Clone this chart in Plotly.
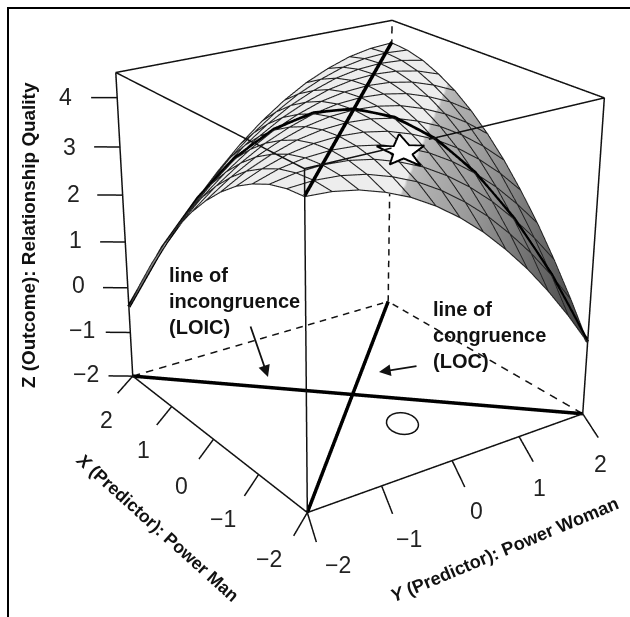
import plotly.graph_objects as go

grid_x = [-2, -1.667, -1.333, -1, -0.667, -0.333, 0, 0.333, 0.667, 1, 1.333, 1.667, 2]
grid_y = list(grid_x)
grid_z = [
 [4.00,3.97,3.88,3.72,3.51,3.23,2.89,2.49,2.02,1.50,0.91,0.26,-0.45],
 [3.97,4.00,3.97,3.88,3.72,3.51,3.23,2.89,2.49,2.02,1.50,0.91,0.26],
 [3.88,3.97,4.00,3.97,3.88,3.72,3.51,3.23,2.89,2.49,2.02,1.50,0.91],
 [3.72,3.88,3.97,4.00,3.97,3.88,3.72,3.51,3.23,2.89,2.49,2.02,1.50],
 [3.51,3.72,3.88,3.97,4.00,3.97,3.88,3.72,3.51,3.23,2.89,2.49,2.02],
 [3.23,3.51,3.72,3.88,3.97,4.00,3.97,3.88,3.72,3.51,3.23,2.89,2.49],
 [2.89,3.23,3.51,3.72,3.88,3.97,4.00,3.97,3.88,3.72,3.51,3.23,2.89],
 [2.49,2.89,3.23,3.51,3.72,3.88,3.97,4.00,3.97,3.88,3.72,3.51,3.23],
 [2.02,2.49,2.89,3.23,3.51,3.72,3.88,3.97,4.00,3.97,3.88,3.72,3.51],
 [1.50,2.02,2.49,2.89,3.23,3.51,3.72,3.88,3.97,4.00,3.97,3.88,3.72],
 [0.91,1.50,2.02,2.49,2.89,3.23,3.51,3.72,3.88,3.97,4.00,3.97,3.88],
 [0.26,0.91,1.50,2.02,2.49,2.89,3.23,3.51,3.72,3.88,3.97,4.00,3.97],
 [-0.45,0.26,0.91,1.50,2.02,2.49,2.89,3.23,3.51,3.72,3.88,3.97,4.00],
]
shade_right = [.93,.93,.93,.78,.70,.66,.62,.56,.50,.44,.38,.31,.24]
shade_left = [.93,.93,.93,.93,.93,.93,.93,.93,.72,.68,.60,.48,.35]

ring_x = [-1.068,-1.124,-1.168,-1.198,-1.212,-1.207,-1.186,-1.149,-1.099,-1.038,-.973,-.906,-.842,-.786,-.742,-.712,-.698,-.703,-.724,-.761,-.811,-.872,-.937,-1.004,-1.068]
ring_y = [.216,.172,.122,.068,.013,-.039,-.084,-.119,-.141,-.150,-.144,-.124,-.092,-.048,.002,.056,.111,.163,.208,.243,.265,.274,.268,.248,.216]
star_x = [-0.906,-1.283,-1.379,-1.535,-1.869,-1.582,-1.650,-1.412,-1.098,-1.207]
star_y = [-0.022,-0.161,-0.031,-0.307,-0.450,-0.459,-0.692,-0.473,-0.466,-0.317]
star_level = 3.95

x_ticks = [2, 1, 0, -1, -2]
y_ticks = [2, 1, 0, -1, -2]
z_ticks = [4, 3, 2, 1, 0, -1, -2]
z_top = 4.5
floor = -2
MINUS = "\u2212"

# label nudges in pixels, same order as the tick lists
x_nudge = [(8,8),(5,5),(1,5),(-3,0),(-7,-2)]
y_nudge = [(-18,1),(-13,0),(-6,-4),(0,-5),(8,-9)]
z_nudge = [(1,0),(1,0),(2,-1),(1,-1),(1,-2),(1,-2),(2,-1)]

FIG_W, FIG_H = 630, 1413
TOP_CROP = 398
XR = [4, -4]; YR = [-4, 4]; ZR = [-3, 5.5]
aspect = dict(x=1.6, y=1.6111, z=1.0463)
eye = dict(x=3.0767, y=-2.1749, z=1.5706)
center = dict(x=0.2441, y=-0.2748, z=0)
up = dict(x=0.011573, y=-0.001543, z=1)
THIN = 3
THICK = 7

n = len(grid_x)
shade = [[(shade_right[j-i] if j >= i else shade_left[i-j]) for j in range(n)] for i in range(n)]
def pxX(p): return p/FIG_W
def pxY(p): return 1-(p+TOP_CROP)/FIG_H

fig = go.Figure()
fig.add_trace(go.Surface(
    x=grid_x, y=grid_y, z=grid_z,
    surfacecolor=[[shade[j][i] for j in range(n)] for i in range(n)],
    cmin=0, cmax=1, showscale=False, hoverinfo="skip",
    colorscale=[[0,"rgb(0,0,0)"],[0.735,"rgb(187,187,187)"],[0.74,"rgb(237,237,237)"],[1,"rgb(237,237,237)"]],
    lighting=dict(ambient=1, diffuse=0, specular=0, roughness=1, fresnel=0)))
def line(xs, ys, zs, width=THIN, color="#111"):
    fig.add_trace(go.Scatter3d(x=xs, y=ys, z=zs, mode="lines", hoverinfo="skip", showlegend=False,
                               line=dict(color=color, width=width)))
def dashed(p0, p1, periods):
    xs, ys, zs = [], [], []
    for q in range(periods):
        for f in (q/periods, (q+.55)/periods):
            xs.append(p0[0]+(p1[0]-p0[0])*f); ys.append(p0[1]+(p1[1]-p0[1])*f); zs.append(p0[2]+(p1[2]-p0[2])*f)
        xs.append(None); ys.append(None); zs.append(None)
    line(xs, ys, zs)
# surface mesh
for i in range(n):
    line(grid_x,[grid_y[i]]*n,[grid_z[i][j]+.015 for j in range(n)],width=2.2,color="#222")
    line([grid_x[i]]*n,grid_y,[grid_z[j][i]+.015 for j in range(n)],width=2.2,color="#222")
# box
line([2,-2,-2],[-2,-2,2],[floor]*3)
dashed((2,-2,floor),(2,2,floor),21)
dashed((-2,2,floor),(2,2,floor),17)
line([2,2],[-2,-2],[floor,z_top])
line([-2,-2],[-2,-2],[floor,z_top])
line([-2,-2],[2,2],[floor,z_top])
dashed((2,2,floor),(2,2,z_top),23)
line([2,-2,-2,None,-2,-2,2,2],[-2,-2,-0.93,None,-0.45,2,2,-2],[z_top]*3+[None]+[z_top]*4)
# lines of congruence / incongruence
line(grid_x,grid_y,[grid_z[i][i]+.03 for i in range(n)],width=THICK,color="#000")
line(grid_x,grid_y[::-1],[grid_z[n-1-i][i]+.03 for i in range(n)],width=THICK,color="#000")
line([-2,2],[-2,2],[floor,floor],width=THICK,color="#000")
line([2,-2],[-2,2],[floor,floor],width=THICK,color="#000")
for v in x_ticks: line([v,v-.31],[-2,-2.38],[floor,floor])
for v in y_ticks: line([-2,-2.55],[v,v-.25],[floor,floor])
for v in z_ticks: line([2,2.18],[-2,-2.25],[v,v])
line(ring_x,ring_y,[floor]*len(ring_x))
m=len(star_x)
fig.add_trace(go.Mesh3d(x=star_x+[sum(star_x)/m],y=star_y+[sum(star_y)/m],z=[star_level]*(m+1),
    i=[m]*m,j=list(range(m)),k=[(q+1)%m for q in range(m)],color="#fff",hoverinfo="skip",
    lighting=dict(ambient=1,diffuse=0,specular=0,roughness=1,fresnel=0),flatshading=True))
line(star_x+star_x[:1],star_y+star_y[:1],[star_level+.01]*(m+1),width=4,color="#000")

def lab(v): return (MINUS+str(-v)) if v<0 else str(v)
tfont=dict(family="Liberation Sans",size=23,color="#222")
sa=[]
for v,(dx,dy) in zip(x_ticks,x_nudge):
    sa.append(dict(x=v-.62,y=-2.8,z=floor,text=lab(v),showarrow=False,font=tfont,xshift=dx,yshift=-dy))
for v,(dx,dy) in zip(y_ticks,y_nudge):
    sa.append(dict(x=-3.13,y=v-.465,z=floor,text=lab(v),showarrow=False,font=tfont,xshift=dx,yshift=-dy))
for v,(dx,dy) in zip(z_ticks,z_nudge):
    sa.append(dict(x=2.37,y=-2.5,z=v,text=lab(v),showarrow=False,font=tfont,xshift=dx,yshift=-dy))
ax_off=dict(visible=False,showgrid=False,zeroline=False,showspikes=False)
lab_f=dict(family="Liberation Sans",size=20,color="#111")
def title_font(size): return dict(family="Liberation Sans",size=size,color="#111")
anns=[
 dict(x=pxX(28),y=pxY(235),text="<b>Z (Outcome): Relationship Quality</b>",textangle=-90,font=title_font(18.9)),
 dict(x=pxX(157),y=pxY(527),text="<b><i>X</i> (Predictor): Power Man</b>",textangle=42,font=title_font(17.7)),
 dict(x=pxX(504),y=pxY(550),text="<b><i>Y</i> (Predictor): Power Woman</b>",textangle=-22.7,font=title_font(18.2)),
 dict(x=pxX(167),y=pxY(301),text="<b>line of<br>incongruence<br>(LOIC)</b>",font=lab_f,xanchor="left",align="left"),
 dict(x=pxX(431),y=pxY(335),text="<b>line of<br>congruence<br>(LOC)</b>",font=lab_f,xanchor="left",align="left"),
]
for a in anns:
    a.setdefault("xanchor","center")
    a.update(xref="paper",yref="paper",yanchor="middle",showarrow=False)
arrows=[
 dict(x=pxX(268),y=pxY(377),ax=-18,ay=-52),
 dict(x=pxX(379),y=pxY(372),ax=39,ay=-6),
]
for a in arrows:
    a.update(xref="paper",yref="paper",axref="pixel",ayref="pixel",showarrow=True,text="",arrowhead=2,arrowsize=1.3,arrowwidth=1.8,arrowcolor="#111")
fig.update_layout(
    width=FIG_W,height=FIG_H,margin=dict(l=0,r=0,t=0,b=0,pad=0),paper_bgcolor="#fff",showlegend=False,
    annotations=anns+arrows,
    shapes=[
      dict(type="line",xref="paper",yref="paper",x0=pxX(8),x1=pxX(8),y0=pxY(8),y1=pxY(617),line=dict(color="#000",width=2)),
      dict(type="line",xref="paper",yref="paper",x0=pxX(7),x1=pxX(630),y0=pxY(8),y1=pxY(8),line=dict(color="#000",width=2)),
    ],
    scene=dict(domain=dict(x=[0,1],y=[0,1]),aspectmode="manual",aspectratio=aspect,
      camera=dict(eye=eye,center=center,up=up,projection=dict(type="perspective")),
      xaxis=dict(range=XR,**ax_off),yaxis=dict(range=YR,**ax_off),zaxis=dict(range=ZR,**ax_off),
      bgcolor="rgba(0,0,0,0)",annotations=sa,dragmode=False))
crop = ("document.documentElement.style.overflow='hidden';"
        "document.body.style.overflow='hidden';"
        "document.body.style.margin='-%dpx 0 0 0';" % TOP_CROP)
fig.write_html("out.html",config=dict(displayModeBar=False),post_script=crop)
